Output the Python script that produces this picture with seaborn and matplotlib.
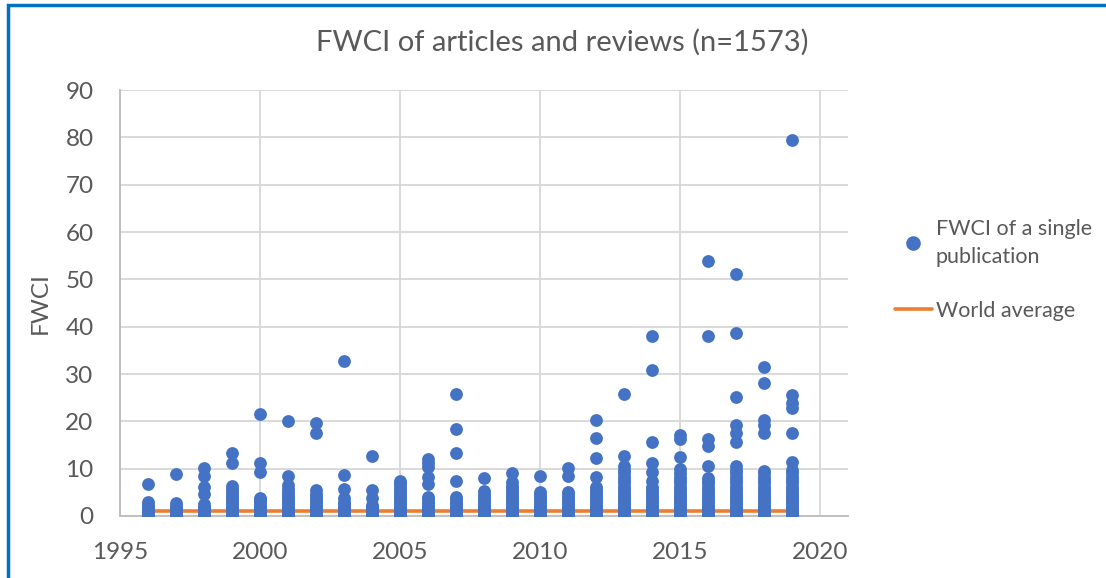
import matplotlib
matplotlib.use("Agg")
import matplotlib.pyplot as plt
import seaborn as sns
import pandas as pd
from matplotlib.lines import Line2D
from matplotlib.patches import Rectangle

# ---------------- data ----------------
years = list(range(1996, 2020))
world_average = [1.0] * len(years)

fwci_1996 = [0.0, 0.3, 0.7, 1.1, 1.5, 1.9, 2.4, 3.0, 6.8]
fwci_1997 = [0.0, 0.4, 0.8, 1.2, 1.6, 2.1, 2.7, 8.8]
fwci_1998 = [0.0, 0.4, 0.8, 1.2, 1.6, 2.0, 2.5, 4.6, 6.2, 8.5, 10.1]
fwci_1999 = [0.0, 0.4, 0.8, 1.2, 1.6, 2.0, 2.5, 3.0, 3.5, 4.0, 4.5, 5.0, 5.6, 6.3, 11.3, 13.4]
fwci_2000 = [0.0, 0.4, 0.8, 1.2, 1.6, 2.0, 2.5, 3.0, 3.5, 3.9, 9.2, 11.3, 21.6]
fwci_2001 = [0.0, 0.4, 0.8, 1.2, 1.6, 2.0, 2.5, 3.0, 3.5, 4.0, 4.5, 5.0, 5.6, 6.5, 8.4, 20.1]
fwci_2002 = [0.0, 0.4, 0.8, 1.2, 1.6, 2.0, 2.5, 3.0, 3.5, 4.0, 4.6, 5.4, 17.5, 19.6]
fwci_2003 = [0.0, 0.4, 0.8, 1.2, 1.6, 2.0, 2.5, 3.0, 3.7, 5.6, 8.6, 32.7]
fwci_2004 = [0.0, 0.4, 0.8, 1.2, 1.6, 2.0, 2.4, 3.9, 5.4, 12.7]
fwci_2005 = [0.0, 0.4, 0.8, 1.2, 1.6, 2.0, 2.5, 3.0, 3.5, 4.0, 4.5, 5.0, 5.6, 6.3, 7.0, 7.5]
fwci_2006 = [0.0, 0.4, 0.8, 1.2, 1.6, 2.0, 2.5, 3.0, 3.5, 4.1, 6.8, 8.3, 10.3, 11.2, 12.0]
fwci_2007 = [0.0, 0.4, 0.8, 1.2, 1.6, 2.0, 2.5, 3.0, 3.5, 4.1, 7.5, 13.4, 18.3, 25.7]
fwci_2008 = [0.0, 0.4, 0.8, 1.2, 1.6, 2.0, 2.5, 3.0, 3.5, 4.0, 4.6, 5.3, 8.1]
fwci_2009 = [0.0, 0.4, 0.8, 1.2, 1.6, 2.0, 2.5, 3.0, 3.5, 4.0, 4.5, 5.0, 5.6, 6.3, 7.2, 9.0]
fwci_2010 = [0.0, 0.4, 0.8, 1.2, 1.6, 2.0, 2.5, 3.0, 3.5, 4.0, 4.6, 5.1, 8.4]
fwci_2011 = [0.0, 0.4, 0.8, 1.2, 1.6, 2.0, 2.5, 3.0, 3.5, 4.0, 4.6, 5.1, 8.4, 10.2]
fwci_2012 = [0.0, 0.4, 0.8, 1.2, 1.6, 2.0, 2.5, 3.0, 3.5, 4.0, 4.5, 5.0, 5.6, 6.2, 8.3, 12.2, 16.5, 20.3]
fwci_2013 = [0.0, 0.4, 0.8, 1.2, 1.6, 2.0, 2.5, 3.0, 3.5, 4.0, 4.5, 5.0, 5.6, 6.2, 6.9, 7.6, 8.3,
             9.0, 9.8, 10.6, 12.7, 25.7]
fwci_2014 = [0.0, 0.4, 0.8, 1.2, 1.6, 2.0, 2.5, 3.0, 3.5, 4.0, 4.5, 5.0, 5.5, 6.2, 7.3, 9.4, 11.2,
             15.7, 30.8, 38.0]
fwci_2015 = [0.0, 0.4, 0.8, 1.2, 1.6, 2.0, 2.5, 3.0, 3.5, 4.0, 4.5, 5.0, 5.6, 6.2, 6.9, 7.6, 8.3,
             9.1, 9.9, 12.4, 16.2, 17.1]
fwci_2016 = [0.0, 0.4, 0.8, 1.2, 1.6, 2.0, 2.5, 3.0, 3.5, 4.0, 4.5, 5.0, 5.6, 6.2, 6.9, 7.5, 8.1,
             10.6, 14.7, 16.2, 38.0, 53.9]
fwci_2017 = [0.0, 0.4, 0.8, 1.2, 1.6, 2.0, 2.5, 3.0, 3.5, 4.0, 4.5, 5.0, 5.6, 6.2, 6.9, 7.6, 8.3,
             9.0, 9.8, 10.6, 15.7, 17.5, 19.2, 25.1, 38.7, 51.1]
fwci_2018 = [0.0, 0.4, 0.8, 1.2, 1.6, 2.0, 2.5, 3.0, 3.5, 4.0, 4.5, 5.0, 5.6, 6.2, 6.9, 7.6, 8.3,
             9.0, 9.6, 17.6, 19.2, 20.2, 28.1, 31.5]
fwci_2019 = [0.0, 0.4, 0.8, 1.2, 1.6, 2.0, 2.5, 3.0, 3.5, 4.0, 4.5, 5.0, 5.6, 6.2, 6.9, 7.6, 8.3,
             9.0, 9.7, 11.5, 17.5, 22.9, 23.8, 25.6, 79.4]

fwci_by_year = [fwci_1996, fwci_1997, fwci_1998, fwci_1999, fwci_2000, fwci_2001, fwci_2002,
                fwci_2003, fwci_2004, fwci_2005, fwci_2006, fwci_2007, fwci_2008, fwci_2009,
                fwci_2010, fwci_2011, fwci_2012, fwci_2013, fwci_2014, fwci_2015, fwci_2016,
                fwci_2017, fwci_2018, fwci_2019]

title = "FWCI of articles and reviews (n=1573)"
scatter_label = "FWCI of a single\npublication"
line_label = "World average"
y_label = "FWCI"
x_ticks = [1995, 2000, 2005, 2010, 2015, 2020]
y_ticks = list(range(0, 91, 10))

# ---------------- frames ----------------
rows = []
for yr, vals in zip(years, fwci_by_year):
    for v in vals:
        rows.append({"year": yr, "fwci": v})
pts = pd.DataFrame(rows)
avg = pd.DataFrame({"year": years, "fwci": world_average})

# ---------------- style ----------------
sns.set_theme(style="white")
plt.rcParams["font.family"] = ["Lato", "DejaVu Sans"]
text_color = "#595959"
grid_color = "#D9D9D9"
blue = "#4472C4"
orange = "#ED7D31"

fig = plt.figure(figsize=(11.06, 5.78), dpi=100)
fig.patch.set_facecolor("white")
ax = fig.add_axes([120 / 1106, 1 - 516 / 578, (848 - 120) / 1106, (516 - 90) / 578])

sns.lineplot(data=avg, x="year", y="fwci", ax=ax, color=orange, linewidth=2.6, zorder=2)
sns.scatterplot(data=pts, x="year", y="fwci", ax=ax, color=blue, s=85, edgecolor=blue,
                linewidth=0.0, zorder=3)

ax.set_xlim(1995, 2021)
ax.set_ylim(0, 90)
ax.set_xticks(x_ticks)
ax.set_yticks(y_ticks)
ax.grid(True, color=grid_color, linewidth=1.4, zorder=0)
ax.set_axisbelow(True)
for side in ["top", "right"]:
    ax.spines[side].set_visible(False)
for side in ["left", "bottom"]:
    ax.spines[side].set_color("#BFBFBF")
    ax.spines[side].set_linewidth(1.4)
ax.tick_params(axis="both", length=0, labelsize=17.5, labelcolor=text_color, pad=19)
ax.set_xlabel("")
ax.set_ylabel(y_label, fontsize=17.5, color=text_color)
ax.yaxis.set_label_coords(-0.095, 0.5)

fig.text(562 / 1106, 1 - 42 / 578, title, ha="center", va="center", fontsize=21,
         color=text_color)

handles = [
    Line2D([], [], linestyle="none", marker="o", color=blue, markersize=9.5),
    Line2D([], [], color=orange, linewidth=2.6),
]
leg = fig.legend(handles, [scatter_label, line_label], loc="upper left",
                 bbox_to_anchor=(886 / 1106, 1 - 210 / 578), frameon=False,
                 fontsize=15.5, handlelength=1.75, handletextpad=0.15, labelspacing=1.55,
                 borderaxespad=0)
for t in leg.get_texts():
    t.set_color(text_color)
    t.set_linespacing(1.55)

# blue frame around the chart (right/bottom cut off in the reference)
fig.patches.append(Rectangle((8 / 1106, -0.5), 2.0, 1.5 - 5 / 578, fill=False,
                             edgecolor="#0070C0", linewidth=2.5, transform=fig.transFigure,
                             figure=fig))

fig.savefig("out.png", dpi=100, facecolor="white")
